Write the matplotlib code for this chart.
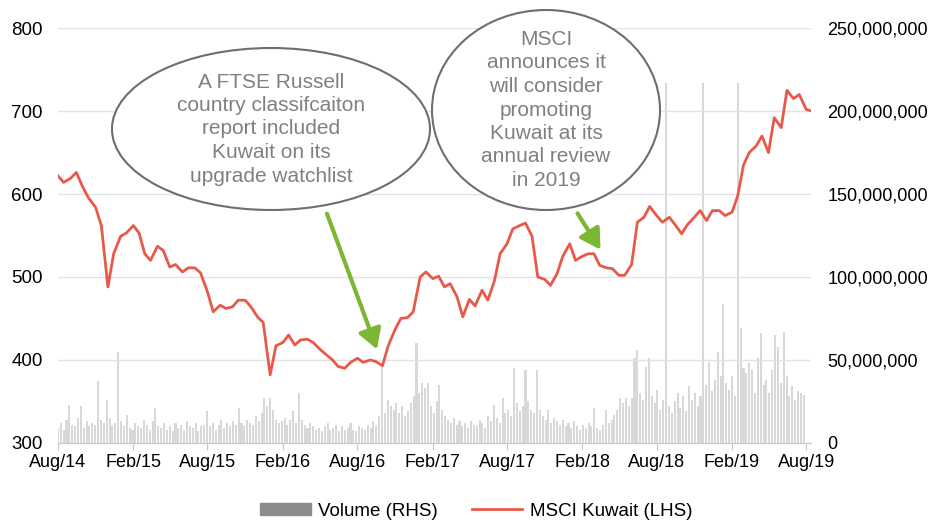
import matplotlib
matplotlib.use('Agg')
from matplotlib import pyplot as plt
from matplotlib.patches import Ellipse, Patch, FancyArrowPatch
from matplotlib.lines import Line2D
import pandas as pd

plt.rcParams['font.family'] = ['Liberation Sans', 'DejaVu Sans']

# MSCI Kuwait index (Aug 2014 - Aug 2019)
index_values = [
    622, 614, 619, 626, 608, 595, 584, 562, 488, 528, 549, 553, 562,
    553, 528, 520, 537, 532, 512, 515, 506, 511, 511, 505, 482, 458,
    466, 462, 464, 472, 472, 464, 452, 445, 382, 417, 421, 430, 418,
    424, 425, 421, 413, 407, 400, 392, 390, 397, 402, 397, 400, 398,
    393, 417, 437, 450, 451, 458, 500, 506, 498, 501, 488, 492, 476,
    452, 473, 465, 484, 472, 495, 528, 540, 558, 562, 565, 549, 500,
    497, 490, 504, 525, 540, 520, 525, 528, 528, 514, 511, 510, 502,
    502, 515, 566, 572, 585, 574, 566, 572, 563, 552, 563, 572, 580,
    568, 580, 580, 574, 578, 598, 635, 650, 658, 670, 650, 692, 680,
    725, 715, 720, 702, 700,
]

# weekly traded volume in millions of shares
volume_m = [
    9, 12, 8, 14, 23, 11, 10, 15, 22, 9, 13, 10, 12,
    11, 37, 14, 12, 26, 15, 10, 12, 55, 13, 10, 17, 9,
    8, 12, 10, 9, 14, 11, 8, 13, 21, 10, 9, 12, 8,
    10, 7, 12, 9, 11, 8, 13, 10, 9, 12, 7, 10, 11,
    19, 10, 12, 8, 11, 14, 9, 12, 10, 13, 11, 21, 12,
    10, 14, 12, 11, 16, 13, 18, 27, 22, 27, 20, 14, 12,
    13, 15, 11, 14, 19, 12, 30, 14, 11, 9, 12, 10, 8,
    9, 7, 10, 12, 8, 9, 11, 7, 10, 8, 9, 12, 8,
    7, 10, 9, 8, 11, 9, 13, 10, 16, 46, 18, 26, 22,
    20, 24, 18, 22, 16, 19, 24, 28, 60, 30, 36, 33, 36,
    22, 18, 25, 35, 20, 16, 14, 12, 15, 11, 13, 10, 12,
    9, 13, 11, 10, 14, 12, 9, 16, 13, 23, 15, 12, 27,
    18, 20, 16, 45, 24, 19, 22, 44, 25, 20, 18, 44, 20,
    16, 14, 20, 12, 15, 13, 11, 14, 10, 12, 9, 13, 10,
    8, 11, 9, 12, 10, 21, 9, 8, 11, 20, 12, 14, 17,
    20, 27, 24, 27, 22, 27, 51, 56, 30, 26, 46, 51, 28,
    24, 32, 20, 26, 217, 22, 18, 25, 30, 21, 28, 19, 34,
    26, 30, 22, 28, 217, 35, 49, 31, 38, 55, 40, 84, 36,
    32, 40, 28, 217, 69, 45, 42, 48, 44, 30, 51, 66, 35,
    38, 30, 44, 65, 58, 36, 67, 40, 28, 34, 26, 31, 30,
    29,
]

tick_labels = ['Aug/14', 'Feb/15', 'Aug/15', 'Feb/16', 'Aug/16', 'Feb/17',
               'Aug/17', 'Feb/18', 'Aug/18', 'Feb/19', 'Aug/19']

note_ftse = 'A FTSE Russell\ncountry classifcaiton\nreport included\nKuwait on its\nupgrade watchlist'
note_msci = 'MSCI\nannounces it\nwill consider\npromoting\nKuwait at its\nannual review\nin 2019'

line_color = '#E9594A'
arrow_color = '#7CB733'
text_grey = '#808080'

index_dates = pd.date_range('2014-08-01', periods=len(index_values), freq='SMS')
volume_dates = pd.date_range('2014-08-01', periods=len(volume_m), freq='7D')
tick_dates = pd.date_range('2014-08-01', periods=len(tick_labels), freq='6MS')

fig = plt.figure(figsize=(9.34, 5.21), dpi=100)
ax = fig.add_axes([0.062, 0.150, 0.806, 0.796])
ax2 = ax.twinx()

# volume behind, index on top
ax.set_zorder(2)
ax.patch.set_visible(False)
ax2.bar(volume_dates, [v * 1e6 for v in volume_m], width=5, color='#d8d8d8', linewidth=0)
ax.plot(index_dates, index_values, color=line_color, lw=2.0, zorder=3)

ax.set_ylim(300, 800)
ax.set_yticks(range(300, 801, 100))
ax2.set_ylim(0, 250e6)
ax2.set_yticks([0, 50e6, 100e6, 150e6, 200e6, 250e6])
ax2.set_yticklabels(['0', '50,000,000', '100,000,000', '150,000,000', '200,000,000', '250,000,000'])

ax.set_xlim(pd.Timestamp('2014-08-01'), pd.Timestamp('2019-08-12'))
ax.set_xticks(tick_dates)
ax.set_xticklabels(tick_labels)

ax.grid(axis='y', color='#e3e3e3', lw=1)
ax.set_axisbelow(True)
for a in (ax, ax2):
    for side in ('top', 'left', 'right'):
        a.spines[side].set_visible(False)
    a.spines['bottom'].set_color('#c8c8c8')
ax.tick_params(axis='y', length=0, labelsize=13.5, colors='black', pad=11)
ax2.tick_params(axis='y', length=0, labelsize=13, colors='black', pad=12)
ax.tick_params(axis='x', length=5, color='#c8c8c8', labelsize=13, pad=3)

# callouts drawn in pixel positions of the figure
def callout(cx, cy, w, h, text, start, end):
    fig.patches.append(Ellipse((cx / 934, 1 - cy / 521), w / 934, h / 521,
                               transform=fig.transFigure, facecolor='white',
                               edgecolor='#6e6e6e', lw=1.5, zorder=5))
    fig.text(cx / 934, 1 - cy / 521, text, ha='center', va='center', fontsize=15,
             color=text_grey, linespacing=1.3, zorder=6)
    fig.patches.append(FancyArrowPatch(
        (start[0] / 934, 1 - start[1] / 521), (end[0] / 934, 1 - end[1] / 521),
        transform=fig.transFigure, arrowstyle='-|>,head_length=12,head_width=7',
        color=arrow_color, lw=3, zorder=5))

callout(271, 129, 318, 162, note_ftse, (326, 211), (378, 352))
callout(546, 110, 228, 200, note_msci, (576, 211), (602, 252))

handles = [Patch(color='#8c8c8c'), Line2D([], [], color=line_color, lw=2)]
fig.legend(handles, ['Volume (RHS)', 'MSCI Kuwait (LHS)'], loc='center',
           bbox_to_anchor=(0.51, 0.019), ncol=2, frameon=False, fontsize=13.5,
           handlelength=2.7, handleheight=0.6, columnspacing=1.8, handletextpad=0.4)

fig.savefig('out.png', dpi=100)
